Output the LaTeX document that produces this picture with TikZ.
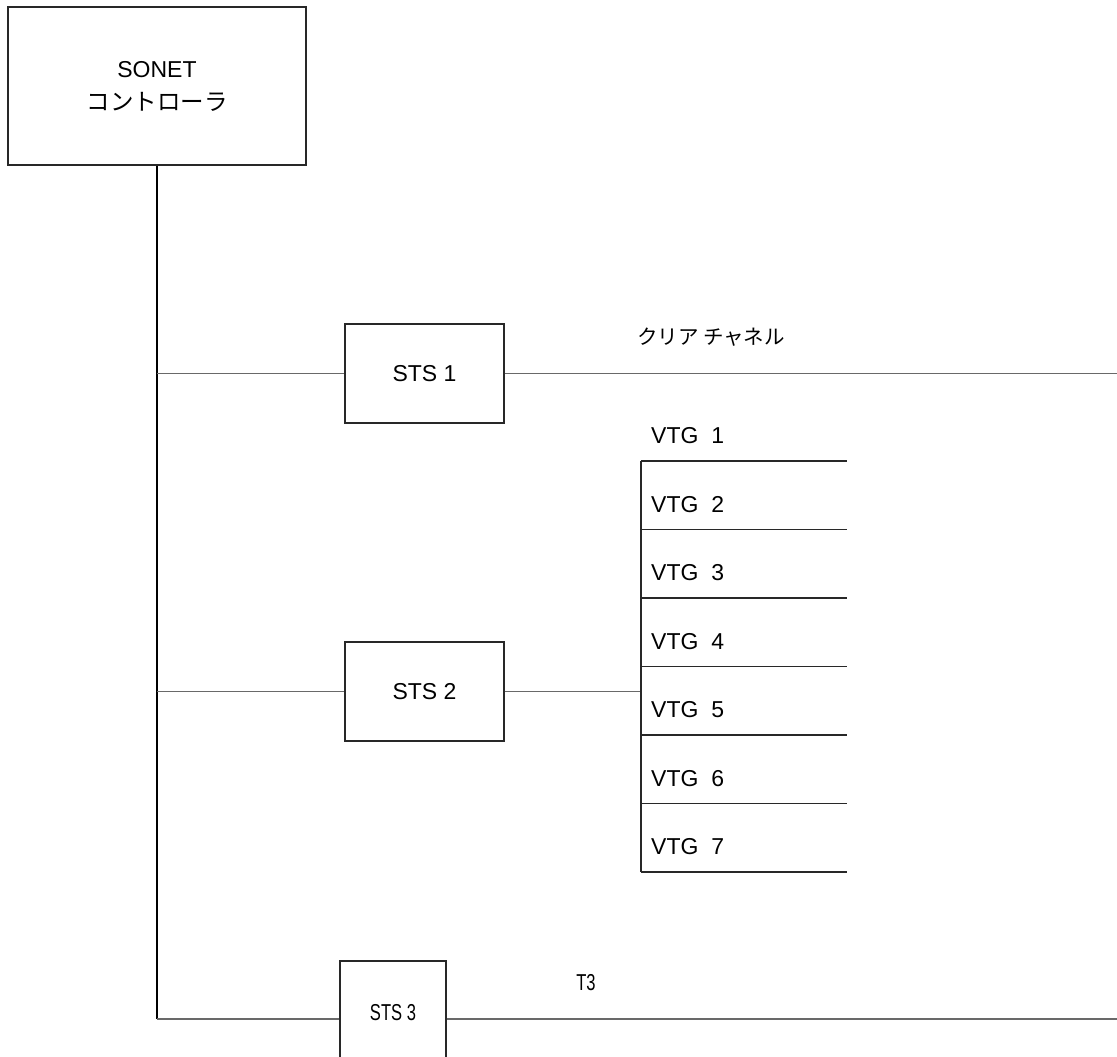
\documentclass[tikz,border=0pt]{standalone}
\usepackage{fontspec}
\usepackage{graphicx}
\setmainfont{Liberation Sans}
\newfontfamily\cjk{Noto Sans CJK JP}
\usetikzlibrary{calc}
\definecolor{linegray}{RGB}{105,105,105}
\definecolor{boxline}{RGB}{40,40,40}
\tikzset{
  unitbox/.style={draw=boxline, line width=1.1pt, rectangle, inner sep=0pt, font=\fontsize{23}{28}\selectfont},
  feed/.style={draw=linegray, line width=1.9pt},
  trunk/.style={draw=black, line width=1.2pt},
  vtgline/.style={draw=boxline, line width=1.2pt},
  lbl/.style={inner sep=0pt, font=\fontsize{23}{28}\selectfont},
}
\begin{document}
\begin{tikzpicture}[x=1pt,y=-1pt]
\useasboundingbox (0,0) rectangle (1117,1057);
\clip (0,0) rectangle (1117,1057);
\fill[white] (0,0) rectangle (1117,1057);

% controller
\node[unitbox, minimum width=298pt, minimum height=158pt, align=center]
  (ctrl) at (157,86) {SONET\\[5pt]{\cjk\fontsize{23.5}{28}\selectfont コントローラ}};

% STS boxes
\node[unitbox, minimum width=159pt, minimum height=99pt] (sts1) at (424.5,373.5) {STS 1};
\node[unitbox, minimum width=159pt, minimum height=99pt] (sts2) at (424.5,691.5) {STS 2};
\node[unitbox, minimum width=106pt, minimum height=104pt] (sts3) at (393,1013) {\scalebox{0.72}[1]{STS 3}};

% trunk
\coordinate (tb) at (157,1019);
\draw[trunk] (ctrl.south) -- (tb);
\draw[feed] (ctrl.south |- sts1.west) -- (sts1.west);
\draw[feed] (ctrl.south |- sts2.west) -- (sts2.west);
\draw[feed] (tb) -- (sts3.west |- tb);

% STS1 clear channel
\coordinate (e1) at (1117,373.5);
\draw[feed] (sts1.east) -- (e1);
\node[lbl, font=\cjk\fontsize{20.5}{24}\selectfont] (cc) at (711,337) {クリア チャネル};

% STS3 T3
\coordinate (e3) at (1117,1019);
\draw[feed] (sts3.east |- tb) -- (e3);
\node[lbl] (t3) at (586,983) {\scalebox{0.72}[1]{T3}};

% STS2 VTG bus
\coordinate (bt) at (641,461);
\coordinate (bb) at (641,872);
\draw[feed] (sts2.east) -- (sts2.east -| bt);
\draw[vtgline] (bt) -- (bb);
\foreach \i in {1,...,7}{
  \pgfmathsetmacro{\yy}{461+(\i-1)*68.5}
  \coordinate (v\i) at (641,\yy);
  \draw[vtgline] (v\i) -- ++(206,0);
  \node[lbl, anchor=west] (vl\i) at ($(v\i)+(10,-25)$) {VTG~~\i};
}
\end{tikzpicture}
\end{document}
